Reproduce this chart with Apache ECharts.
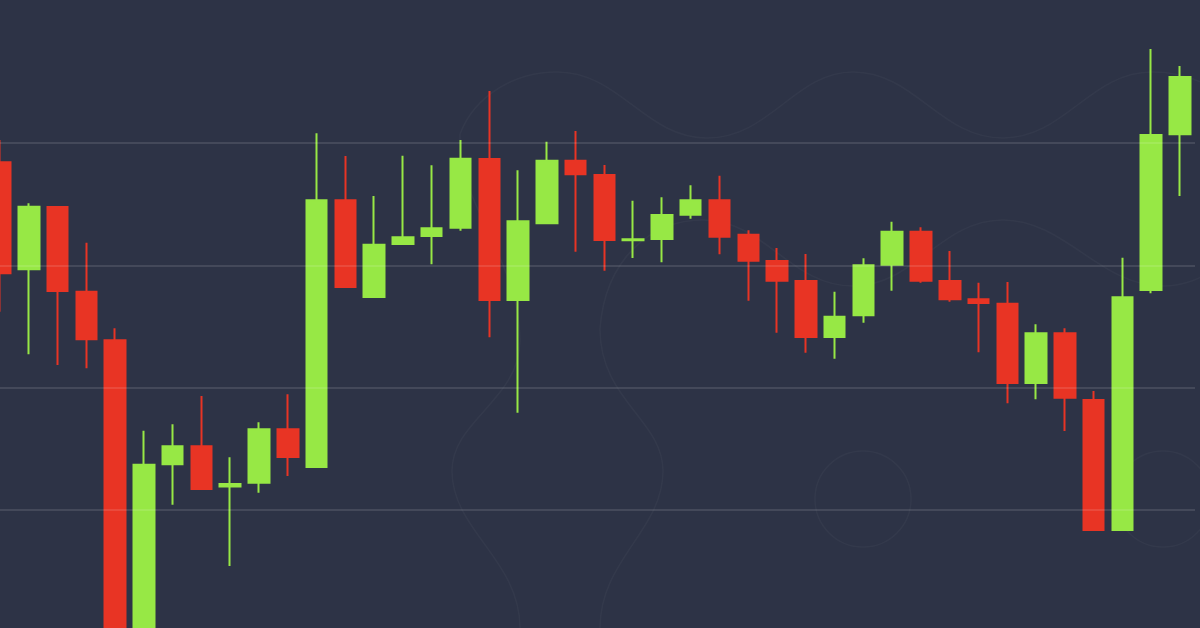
<!DOCTYPE html>
<html>
<head>
<meta charset="utf-8">
<script src="https://cdn.jsdelivr.net/npm/echarts@6/dist/echarts.min.js"></script>
<style>
  html, body { margin: 0; padding: 0; background: #2d3346; }
  #chart { width: 1200px; height: 628px; }
</style>
</head>
<body>
<div id="chart"></div>
<script>
// ---- data ----
const categories = ['1','2','3','4','5','6','7','8','9','10','11','12','13','14','15','16','17','18','19','20','21',
                    '22','23','24','25','26','27','28','29','30','31','32','33','34','35','36','37','38','39','40','41','42'];
const opens  = [484.2, 396.8, 447.7, 378.4, 338.7, 85.6, 237.4, 252.1, 219.2, 222.3, 266.0, 235.1, 453.2, 374.1,
                417.4, 424.0, 430.8, 486.9, 371.7, 434.4, 485.5, 473.8, 420.5, 421.5, 441.4, 453.2, 425.0, 403.5,
                387.2, 341.4, 359.2, 400.5, 427.5, 387.2, 372.2, 368.6, 303.8, 344.4, 289.9, 183.7, 379.8, 507.1];
const closes = [393.5, 447.9, 379.0, 339.5, 77.4, 237.0, 252.1, 217.2, 221.3, 266.0, 243.3, 453.2, 382.3, 416.9,
                422.9, 430.3, 487.2, 371.7, 436.0, 485.5, 474.4, 420.7, 421.3, 441.1, 453.2, 423.4, 403.8, 387.4,
                341.4, 358.0, 400.0, 427.5, 387.4, 372.2, 369.2, 303.8, 344.4, 291.8, 183.7, 373.9, 506.5, 554.0];
const lows   = [362.1, 327.3, 318.5, 315.8, 69.2, 77.4, 204.3, 216.3, 154.2, 214.1, 227.8, 234.7, 381.9, 373.7,
                416.6, 400.8, 428.3, 341.2, 279.5, 433.8, 411.1, 395.6, 406.0, 402.5, 438.1, 409.0, 371.1, 344.9,
                328.6, 323.7, 353.1, 379.3, 385.8, 370.3, 328.9, 287.2, 290.5, 264.6, 183.7, 183.7, 377.1, 456.7];
const highs  = [502.5, 450.7, 448.5, 418.5, 348.5, 264.8, 270.1, 293.2, 243.1, 271.7, 294.6, 507.9, 489.4, 456.7,
                489.6, 481.8, 502.5, 542.5, 477.7, 501.1, 509.8, 482.0, 452.8, 455.6, 465.4, 473.3, 428.6, 414.2,
                409.3, 378.4, 405.7, 435.7, 431.1, 411.7, 385.8, 386.4, 351.8, 348.5, 297.3, 406.2, 576.8, 562.9];
const gridLevels = [200, 300, 400, 500];

const UP = '#97e845';
const DOWN = '#e83424';
const Y_MIN = 103.5, Y_MAX = 616.9;

const ohlc = opens.map((o, i) => [o, closes[i], lows[i], highs[i]]);

// faint decorative background pattern
const faint = { stroke: 'rgba(255,255,255,0.03)', lineWidth: 1.5, fill: null };
function bz(x1, y1, c1x, c1y, c2x, c2y, x2, y2) {
  return { type: 'bezierCurve', silent: true, z: -10,
    shape: { x1, y1, x2, y2, cpx1: c1x, cpy1: c1y, cpx2: c2x, cpy2: c2y }, style: faint };
}
const deco = [
  bz(460, 134, 475, 95, 515, 72, 557, 72),
  bz(557, 72, 620, 72, 645, 138, 707, 138),
  bz(707, 138, 770, 138, 795, 72, 853, 72),
  bz(853, 72, 915, 72, 940, 138, 1003, 138),
  bz(1003, 138, 1065, 138, 1090, 72, 1152, 72),
  bz(1152, 72, 1180, 72, 1200, 80, 1215, 90),
  bz(600, 329, 605, 260, 650, 220, 703, 220),
  bz(703, 220, 765, 220, 790, 286, 853, 286),
  bz(853, 286, 915, 286, 940, 220, 1003, 220),
  bz(1003, 220, 1065, 220, 1100, 286, 1163, 286),
  bz(1163, 286, 1185, 286, 1200, 278, 1215, 270),
  bz(460, 134, 455, 200, 520, 260, 520, 340),
  bz(520, 340, 520, 400, 452, 420, 452, 471),
  bz(452, 471, 452, 530, 520, 560, 520, 628),
  bz(600, 329, 600, 400, 663, 420, 663, 471),
  bz(663, 471, 663, 530, 600, 560, 600, 628),
  { type: 'circle', silent: true, z: -10, shape: { cx: 863, cy: 499, r: 48 }, style: faint },
  { type: 'circle', silent: true, z: -10, shape: { cx: 1163, cy: 499, r: 48 }, style: faint }
];

const chart = echarts.init(document.getElementById('chart'), null, { renderer: 'canvas' });
chart.setOption({
  backgroundColor: '#2d3346',
  animation: false,
  graphic: deco,
  grid: [
    { left: 0, right: 20, top: 0, bottom: 0, containLabel: false },
    { left: 0, right: 5, top: 0, bottom: 0, containLabel: false }
  ],
  xAxis: [
    { type: 'category', data: categories, boundaryGap: false, show: false, gridIndex: 0 },
    { type: 'category', data: ['g'], boundaryGap: false, show: false, gridIndex: 1 }
  ],
  yAxis: [
    { type: 'value', min: Y_MIN, max: Y_MAX, show: false, splitLine: { show: false }, gridIndex: 0 },
    { type: 'value', min: Y_MIN, max: Y_MAX, show: false, splitLine: { show: false }, gridIndex: 1 }
  ],
  series: [{
    type: 'candlestick',
    data: ohlc,
    barWidth: 21,
    clip: false,
    xAxisIndex: 0, yAxisIndex: 0,
    itemStyle: {
      color: UP, color0: DOWN,
      borderColor: UP, borderColor0: DOWN,
      borderWidth: 2
    }
  }, {
    type: 'line',
    xAxisIndex: 1, yAxisIndex: 1,
    data: [null],
    showSymbol: false,
    z: 10,
    silent: true,
    markLine: {
      silent: true,
      z: 10,
      symbol: ['none', 'none'],
      label: { show: false },
      lineStyle: { color: 'rgba(255,255,255,0.11)', width: 2, type: 'solid' },
      emphasis: { disabled: true },
      data: gridLevels.map(v => ({ yAxis: v }))
    }
  }]
});
</script>
</body>
</html>
